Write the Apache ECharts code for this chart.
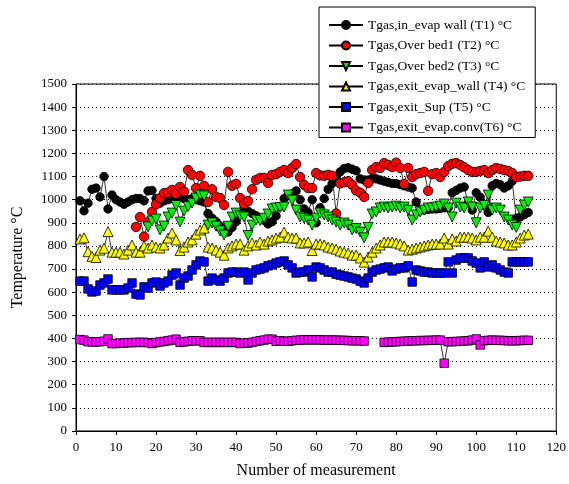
<!DOCTYPE html>
<html>
<head>
<meta charset="utf-8">
<script src="https://cdn.jsdelivr.net/npm/echarts@6/dist/echarts.min.js"></script>
<style>
  html, body { margin: 0; padding: 0; background: #fff; }
  #main { width: 569px; height: 484px; }
</style>
</head>
<body>
<div id="main"></div>
<script>
'use strict';
/* gas temperatures along the measurements */

var t1Name = 'Tgas,in_evap wall (T1) °C';
var t2Name = 'Tgas,Over bed1 (T2) °C';
var t3Name = 'Tgas,Over bed2 (T3) °C';
var t4Name = 'Tgas,exit_evap_wall (T4) °C';
var t5Name = 'Tgas,exit_Sup (T5) °C';
var t6Name = 'Tgas,exit_evap.conv(T6) °C';

// one value per measurement number, starting at 1 (null = no reading)
var t1Values = [
  995, 952, 985, 1045, 1050, 1012, 1100, 960, 1020, 1000,
  990, 980, 990, 1000, 1005, 1005, 995, 1038, 1040, 1005,
  985, 995, 1000, 1005, 1010, 1010, 1005, 1000, 1005, 1000,
  995, 990, 940, 920, 905, 885, 870, 860, 880, 905,
  945, 960, 950, 940, 930, 920, 910, 895, 905, 930,
  970, 1005, 1020, 1025, 1038, 1000, 960, 945, 1000, 900,
  965, 1005, 1045, 1070, 1095, 1120, 1135, 1138, 1132, 1125,
  1090, 1085, 1085, 1090, 1090, 1085, 1080, 1075, 1070, 1070,
  1065, 1060, 1055, 1050, 990, 955, 955, 958, 960, 960,
  962, 965, 965, 1030, 1040, 1050, 1055, 985, 955, 1030,
  1010, 975, 945, 1060, 1070, 1065, 1050, 1060, 1080, 920,
  925, 935, 945
];
var t2Values = [
  null, null, null, null, null, null, null, null, null, null,
  null, null, null, null, 882, 925, 840, 903, 947, 980,
  1007, 1028, 1030, 1042, 1025, 1055, 1035, 1128, 1107, 1050,
  1103, 1060, 990, 1045, 1012, 1007, 977, 1120, 1060, 1068,
  1007, 981, 994, 1045, 1085, 1094, 1094, 1072, 1107, 1110,
  1120, 1128, 1115, 1137, 1154, 1098, 1064, 1050, 1050, 1115,
  1105, 1103, 1107, 1103, 940, 1070, 1075, 1080, 1064, 1040,
  1030, 1012, 1072, 1128, 1141, 1137, 1158, 1150, 1141, 1160,
  1137, 1068, 1137, 1098, 1110, 1115, 1120, 1038, 1110, 1115,
  1098, 1120, 1145, 1155, 1158, 1150, 1140, 1128, 1120, 1120,
  1124, 1128, 1115, 1128, 1137, 1133, 1128, 1124, 1115, 1098,
  1100, 1103, 1103
];
var t3Values = [
  null, null, null, null, null, null, null, null, null, null,
  null, null, null, null, null, null, null, 882, 908, 916,
  869, 886, 925, 942, 975, 903, 951, 970, 985, 1007,
  1020, 1016, 890, 899, 885, 865, 847, 885, 925, 942,
  930, 925, 845, 890, 912, 910, 920, 938, 960, 964,
  966, 968, 1020, 998, 955, 925, 920, 912, 890, 920,
  942, 934, 925, 912, 903, 890, 899, 890, 869, 875,
  860, 835, 880, 938, 947, 964, 968, 964, 968, 972,
  964, 968, 955, 912, 934, 947, 955, 964, 964, 968,
  972, 981, 964, 925, 985, 968, 964, 990, 968, 900,
  964, 975, 1020, 955, 964, 955, 925, 912, 890, 880,
  955, 977, 990
];
var t4Values = [
  830, 835, 775, 755, 750, 782, 790, 862, 773, 773,
  773, 765, 782, 804, 773, 773, 800, 791, 804, 795,
  791, 804, 834, 856, 826, 780, 795, 817, 826, 851,
  869, 877, 795, 791, 782, 773, 760, 791, 800, 808,
  808, 782, 800, 813, 804, 817, 808, 821, 826, 834,
  838, 860, 838, 834, 834, 813, 813, 817, 780, 808,
  808, 804, 795, 791, 786, 778, 773, 769, 760, 760,
  748, 730, 752, 773, 791, 804, 817, 817, 817, 813,
  808, 800, 782, 786, 791, 795, 800, 804, 808, 808,
  808, 834, 808, 830, 821, 838, 838, 838, 834, 826,
  838, 838, 864, 838, 821, 817, 813, 804, 804, 817,
  834, 847, 851
];
var t5Values = [
  648, 648, 614, 601, 605, 631, 640, 657, 610, 610,
  610, 610, 618, 640, 592, 588, 623, 618, 640, 644,
  627, 640, 648, 674, 683, 631, 661, 670, 696, 718,
  735, 731, 648, 661, 653, 648, 661, 683, 687, 687,
  683, 687, 653, 683, 696, 700, 705, 714, 718, 726,
  731, 735, 718, 705, 683, 687, 687, 696, 666, 709,
  705, 696, 687, 687, 678, 674, 670, 666, 661, 657,
  648, 640, 661, 687, 696, 700, 705, 709, 692, 700,
  705, 705, 714, 644, 696, 692, 687, 687, 683, 683,
  683, 683, 731, 683, 739, 748, 748, 748, 735, 726,
  705, 731, 709, 718, 705, 696, 687, 683, 731, 731,
  731, 731, 731
];
var t6Values = [
  395, 393, 386, 385, 385, 386, 388, 398, 378, 378,
  380, 380, 382, 382, 383, 383, 383, 382, 378, 382,
  385, 387, 390, 393, 397, 383, 385, 388, 390, 390,
  390, 383, 383, 383, 383, 383, 383, 383, 383, 383,
  378, 380, 380, 383, 387, 390, 393, 397, 397, 388,
  390, 388, 388, 390, 392, 393, 394, 394, 394, 394,
  394, 393, 393, 393, 393, 392, 392, 391, 390, 390,
  390, 389, null, null, null, null, 383, 384, 385, 386,
  387, 388, 389, 390, 390, 391, 391, 392, 392, 393,
  393, 293, 386, 386, 387, 388, 389, 390, 393, 398,
  372, 390, 392, 393, 392, 392, 391, 390, 390, 390,
  391, 392, 392
];

var xTicks = [0, 120, 10];
var yTicks = [0, 1500, 100];

function toPairs(values) {
  var out = [];
  for (var i = 0; i < values.length; i++) {
    out.push([i + 1, values[i] === null ? '-' : values[i]]);
  }
  return out;
}

function makeSeries(name, values, symbol, color, size, rotate) {
  return {
    name: name,
    type: 'line',
    data: toPairs(values),
    symbol: symbol,
    symbolSize: size,
    symbolRotate: rotate || 0,
    showAllSymbol: true,
    connectNulls: false,
    animation: false,
    lineStyle: { color: '#000', width: 0.8 },
    itemStyle: { color: color, borderColor: '#000', borderWidth: 0.8 },
    emphasis: { disabled: true }
  };
}

var serif = 'Liberation Serif';
var chart = echarts.init(document.getElementById('main'));

var option = {
  backgroundColor: '#fff',
  textStyle: { fontFamily: serif, color: '#000' },
  grid: {
    left: 76, right: 10, top: 84, bottom: 53,
    show: true, borderColor: '#000', borderWidth: 1
  },
  legend: {
    orient: 'vertical',
    left: 319, top: 7,
    padding: [10, 10, 2, 9],
    itemGap: 4.5,
    itemWidth: 34,
    itemHeight: 10,
    backgroundColor: '#fff',
    borderColor: '#000',
    borderWidth: 1,
    textStyle: { fontFamily: serif, fontSize: 13.5, color: '#000', lineHeight: 16 },
    data: [t1Name, t2Name, t3Name, t4Name, t5Name, t6Name]
  },
  xAxis: {
    type: 'value',
    min: xTicks[0], max: xTicks[1], interval: xTicks[2],
    name: 'Number of measurement',
    nameLocation: 'middle',
    nameGap: 32,
    nameTextStyle: { fontFamily: serif, fontSize: 16, color: '#000' },
    axisLine: { lineStyle: { color: '#000', width: 1 } },
    axisTick: { inside: false, length: 4, lineStyle: { color: '#000' } },
    axisLabel: { fontFamily: serif, fontSize: 13, color: '#000', margin: 10 },
    splitLine: { show: false }
  },
  yAxis: {
    type: 'value',
    min: yTicks[0], max: yTicks[1], interval: yTicks[2],
    name: 'Temperature °C',
    nameLocation: 'middle',
    nameGap: 50,
    nameTextStyle: { fontFamily: serif, fontSize: 16, color: '#000' },
    axisLine: { show: true, lineStyle: { color: '#000', width: 1 } },
    axisTick: { show: true, inside: false, length: 4, lineStyle: { color: '#000' } },
    axisLabel: {
      fontFamily: serif, fontSize: 13, color: '#000', margin: 9,
      formatter: function(v) { return String(v); }
    },
    splitLine: { show: true, lineStyle: { color: '#000', type: [1, 3], width: 1 } }
  },
  series: [
    makeSeries(t1Name, t1Values, 'circle', '#000000', 8.5),
    makeSeries(t2Name, t2Values, 'circle', '#ff0000', 9.5),
    makeSeries(t3Name, t3Values, 'triangle', '#00ee00', 10, 180),
    makeSeries(t4Name, t4Values, 'triangle', '#ffff00', 10),
    makeSeries(t5Name, t5Values, 'rect', '#0000ff', 8.5),
    makeSeries(t6Name, t6Values, 'rect', '#ff00ff', 8.5)
  ]
};

chart.setOption(option);
</script>
</body>
</html>
